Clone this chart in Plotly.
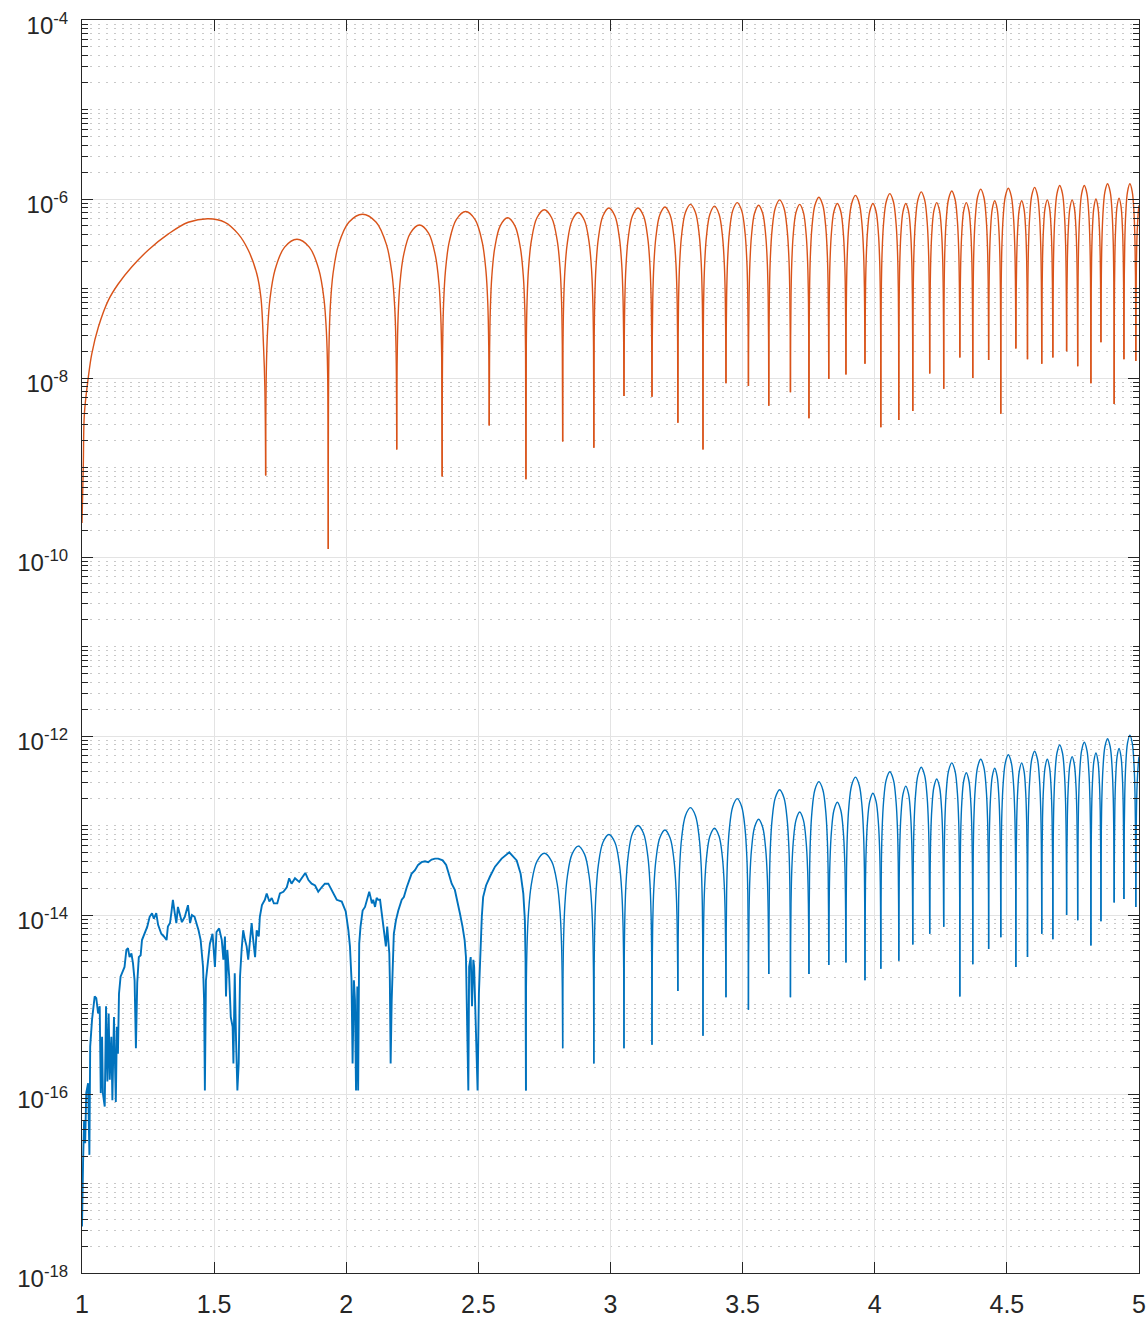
import plotly.graph_objects as go

# ---------------- data (log10 exponents) ----------------
# Orange series: initial long arch from x=1 up to first zero
orange_head_x = [1.000, 1.005, 1.009, 1.024, 1.037, 1.062, 1.100, 1.137, 1.188, 1.251, 1.327,
                 1.402, 1.478, 1.541, 1.591, 1.629, 1.661, 1.677, 1.687, 1.692, 1.695]
orange_head_exp = [-9.62, -8.96, -8.40, -7.99, -7.73, -7.43, -7.13, -6.95, -6.76, -6.57, -6.39,
                   -6.26, -6.22, -6.26, -6.39, -6.57, -6.83, -7.10, -7.65, -8.10, -9.09]

# Orange series: zeros (dips) and lobe maxima
orange_dip_x = [1.695, 1.932, 2.191, 2.363, 2.541, 2.680, 2.819, 2.937, 3.051, 3.157,
                3.255, 3.350, 3.437, 3.522, 3.599, 3.681, 3.751, 3.826, 3.891, 3.963,
                4.023, 4.091, 4.144, 4.208, 4.261, 4.322, 4.371, 4.431, 4.477, 4.534,
                4.578, 4.632, 4.674, 4.726, 4.768, 4.818, 4.856, 4.906, 4.943, 4.988]
orange_dip_exp = [-9.09, -9.91, -8.80, -9.10, -8.53, -9.13, -8.71, -8.78, -8.20, -8.21,
                  -8.50, -8.80, -8.06, -8.09, -8.31, -8.16, -8.45, -8.01, -7.96, -7.84,
                  -8.55, -8.47, -8.37, -7.95, -8.12, -7.77, -8.00, -7.80, -8.40, -7.67,
                  -7.79, -7.84, -7.77, -7.70, -7.87, -8.06, -7.60, -8.29, -7.79, -7.81]
orange_peak_exp = [-6.45, -6.17, -6.29, -6.14, -6.21, -6.12, -6.15, -6.10, -6.10, -6.09,
                   -6.06, -6.08, -6.04, -6.07, -6.01, -6.06, -5.98, -6.05, -5.96, -6.05,
                   -5.94, -6.05, -5.92, -6.04, -5.91, -6.04, -5.89, -6.02, -5.88, -6.02,
                   -5.87, -6.01, -5.85, -6.01, -5.85, -6.00, -5.83, -5.99, -5.83]
orange_tail_x = [4.988, 4.9885, 4.990, 4.993, 4.997, 5.000]
orange_tail_exp = [-7.81, -7.36, -6.76, -6.37, -6.16, -6.07]

# Blue series: noisy part (x = 1 ... 2.68)
blue_noise_x = [1.000, 1.002, 1.004, 1.008, 1.012, 1.016, 1.023, 1.028, 1.031, 1.038, 1.048, 1.054,
                1.061, 1.067, 1.071, 1.076, 1.079, 1.086, 1.091, 1.096, 1.101, 1.105, 1.111, 1.115,
                1.121, 1.128, 1.132, 1.136, 1.140, 1.146, 1.155, 1.161, 1.168, 1.174, 1.180, 1.187,
                1.193, 1.199, 1.204, 1.209, 1.215, 1.222, 1.227, 1.237, 1.247, 1.256, 1.265, 1.272,
                1.281, 1.288, 1.300, 1.310, 1.320, 1.325, 1.333, 1.338, 1.344, 1.351, 1.357, 1.363,
                1.371, 1.378, 1.389, 1.401, 1.409, 1.416, 1.426, 1.434, 1.441, 1.449, 1.458, 1.462,
                1.465, 1.469, 1.474, 1.484, 1.494, 1.503, 1.509, 1.519, 1.529, 1.535, 1.541, 1.545,
                1.550, 1.557, 1.563, 1.570, 1.573, 1.578, 1.583, 1.588, 1.593, 1.598, 1.604, 1.610,
                1.617, 1.623, 1.629, 1.636, 1.642, 1.648, 1.655, 1.661, 1.669, 1.673, 1.681, 1.692,
                1.699, 1.709, 1.718, 1.726, 1.739, 1.749, 1.762, 1.775, 1.784, 1.793, 1.806, 1.822,
                1.837, 1.845, 1.857, 1.869, 1.882, 1.894, 1.907, 1.919, 1.932, 1.951, 1.964, 1.983,
                1.998, 2.008, 2.014, 2.020, 2.024, 2.029, 2.033, 2.037, 2.042, 2.045, 2.049, 2.054,
                2.062, 2.071, 2.079, 2.087, 2.092, 2.097, 2.102, 2.109, 2.115, 2.121, 2.128, 2.134,
                2.140, 2.146, 2.150, 2.155, 2.159, 2.163, 2.165, 2.168, 2.172, 2.176, 2.180, 2.188,
                2.197, 2.210, 2.218, 2.229, 2.238, 2.247, 2.260, 2.272, 2.285, 2.298, 2.310, 2.323,
                2.336, 2.348, 2.365, 2.378, 2.386, 2.399, 2.411, 2.420, 2.430, 2.440, 2.448, 2.453,
                2.458, 2.462, 2.465, 2.471, 2.476, 2.481, 2.484, 2.488, 2.493, 2.497, 2.502, 2.506,
                2.510, 2.513, 2.518, 2.529, 2.544, 2.563, 2.588, 2.617, 2.645, 2.660, 2.670, 2.676,
                2.6785, 2.680]
blue_noise_exp = [-17.48, -17.00, -16.77, -16.29, -16.55, -15.99, -15.88, -16.68, -15.47, -15.17, -14.91, -14.93,
                  -15.10, -15.02, -15.99, -15.36, -15.99, -16.14, -15.02, -15.86, -15.10, -15.84, -15.36, -16.07,
                  -15.14, -16.09, -15.25, -15.55, -14.88, -14.69, -14.62, -14.58, -14.39, -14.37, -14.47, -14.43,
                  -14.54, -14.73, -15.49, -14.76, -14.47, -14.45, -14.28, -14.21, -14.13, -14.02, -13.98, -14.04,
                  -13.98, -14.11, -14.21, -14.24, -14.28, -14.13, -14.09, -13.98, -13.83, -13.98, -14.09, -13.91,
                  -14.02, -14.08, -14.02, -13.89, -14.09, -14.00, -14.02, -14.09, -14.17, -14.28, -14.58, -14.95,
                  -15.96, -14.73, -14.58, -14.32, -14.21, -14.58, -14.19, -14.15, -14.28, -14.50, -14.24, -14.91,
                  -14.39, -14.69, -15.14, -15.25, -15.66, -14.65, -15.40, -15.96, -15.66, -14.69, -14.39, -14.17,
                  -14.28, -14.35, -14.50, -14.24, -14.09, -14.28, -14.47, -14.17, -14.24, -14.02, -13.89, -13.83,
                  -13.76, -13.85, -13.81, -13.87, -13.87, -13.76, -13.74, -13.69, -13.59, -13.65, -13.59, -13.63,
                  -13.57, -13.53, -13.61, -13.65, -13.67, -13.74, -13.69, -13.65, -13.65, -13.76, -13.83, -13.85,
                  -13.96, -14.17, -14.35, -14.73, -15.66, -14.73, -14.95, -15.96, -14.80, -15.96, -14.32, -14.13,
                  -13.95, -13.91, -13.83, -13.74, -13.80, -13.87, -13.83, -13.91, -13.81, -13.83, -13.83, -13.98,
                  -14.06, -14.21, -14.35, -14.13, -14.28, -14.43, -14.73, -15.66, -14.95, -14.50, -14.21, -14.06,
                  -13.95, -13.83, -13.80, -13.69, -13.61, -13.54, -13.50, -13.44, -13.41, -13.40, -13.41, -13.38,
                  -13.37, -13.37, -13.39, -13.44, -13.52, -13.65, -13.72, -13.83, -13.98, -14.13, -14.28, -14.47,
                  -15.66, -15.96, -14.58, -14.47, -15.02, -14.50, -14.58, -15.02, -15.66, -15.96, -14.88, -14.47,
                  -14.21, -14.02, -13.80, -13.67, -13.57, -13.46, -13.37, -13.30, -13.39, -13.54, -13.76, -14.06,
                  -14.50, -15.96]

# Blue series: clean part, zeros (dips) and lobe maxima
blue_dip_x = [2.680, 2.819, 2.937, 3.051, 3.157, 3.255, 3.350, 3.437, 3.522, 3.599,
              3.681, 3.751, 3.826, 3.891, 3.963, 4.023, 4.091, 4.144, 4.208, 4.261,
              4.322, 4.371, 4.431, 4.477, 4.534, 4.578, 4.632, 4.674, 4.726, 4.768,
              4.818, 4.856, 4.906, 4.943, 4.988]
blue_dip_exp = [-15.96, -15.49, -15.66, -15.49, -15.45, -14.85, -15.35, -14.92, -15.06, -14.66,
                -14.92, -14.66, -14.56, -14.53, -14.73, -14.60, -14.51, -14.33, -14.21, -14.13,
                -14.91, -14.55, -14.38, -14.25, -14.58, -14.47, -14.21, -14.27, -14.00, -14.06,
                -14.34, -14.07, -13.86, -13.82, -13.91]
blue_peak_exp = [-13.31, -13.23, -13.10, -13.00, -13.05, -12.80, -13.03, -12.70, -12.93, -12.60,
                 -12.85, -12.51, -12.74, -12.46, -12.64, -12.40, -12.56, -12.35, -12.48, -12.30,
                 -12.41, -12.26, -12.36, -12.21, -12.30, -12.17, -12.26, -12.10, -12.23, -12.07,
                 -12.19, -12.03, -12.14, -11.99]
blue_tail_x = [4.988, 4.9885, 4.990, 4.993, 4.997, 5.000]
blue_tail_exp = [-13.91, -13.52, -12.92, -12.53, -12.32, -12.23]

# Lobe profile: position within lobe and decades below its top
lobe_profile_frac = [0.01, 0.03, 0.07, 0.15, 0.30, 0.50, 0.70, 0.85, 0.93, 0.97, 0.99]
lobe_profile_drop = [-1.50, -1.03, -0.66, -0.34, -0.09, 0.0, -0.09, -0.34, -0.66, -1.03, -1.50]

# Axis ticks
x_tick_vals = [1, 1.5, 2, 2.5, 3, 3.5, 4, 4.5, 5]
x_tick_text = ["1", "1.5", "2", "2.5", "3", "3.5", "4", "4.5", "5"]
y_tick_exps = [-18, -16, -14, -12, -10, -8, -6, -4]

ORANGE = "#D95319"
BLUE = "#0072BD"
AX = "#262626"


def lobes(dip_x, dip_exp, peak_exp):
    xs, ys = [], []
    for i, pk in enumerate(peak_exp):
        x0, x1 = dip_x[i], dip_x[i + 1]
        xs.append(x0)
        ys.append(10.0 ** dip_exp[i])
        for f, d in zip(lobe_profile_frac, lobe_profile_drop):
            xs.append(x0 + f * (x1 - x0))
            ys.append(10.0 ** (pk + d))
        xs.append(x1)
        ys.append(10.0 ** dip_exp[i + 1])
        xs.append(None)
        ys.append(None)
    return xs, ys


def pw(exps):
    return [10.0 ** e for e in exps]


fig = go.Figure()

lw = 1.4
# blue
fig.add_trace(go.Scatter(x=blue_noise_x, y=pw(blue_noise_exp), mode="lines",
                         line=dict(color=BLUE, width=1.9), showlegend=False))
bx, by = lobes(blue_dip_x, blue_dip_exp, blue_peak_exp)
fig.add_trace(go.Scatter(x=bx, y=by, mode="lines", connectgaps=False,
                         line=dict(color=BLUE, width=lw, shape="spline", smoothing=1.0),
                         showlegend=False))
fig.add_trace(go.Scatter(x=blue_tail_x, y=pw(blue_tail_exp), mode="lines",
                         line=dict(color=BLUE, width=lw, shape="spline", smoothing=1.0),
                         showlegend=False))
# orange
fig.add_trace(go.Scatter(x=orange_head_x, y=pw(orange_head_exp), mode="lines",
                         line=dict(color=ORANGE, width=lw, shape="spline", smoothing=1.0),
                         showlegend=False))
ox, oy = lobes(orange_dip_x, orange_dip_exp, orange_peak_exp)
fig.add_trace(go.Scatter(x=ox, y=oy, mode="lines", connectgaps=False,
                         line=dict(color=ORANGE, width=lw, shape="spline", smoothing=1.0),
                         showlegend=False))
fig.add_trace(go.Scatter(x=orange_tail_x, y=pw(orange_tail_exp), mode="lines",
                         line=dict(color=ORANGE, width=lw, shape="spline", smoothing=1.0),
                         showlegend=False))

major_vals = [10.0 ** k for k in y_tick_exps]
major_text = ["10<sup>%d</sup>" % k for k in y_tick_exps]
minor_vals = [n * 10.0 ** k for k in range(-18, -4) for n in range(1, 10)
              if not (n == 1 and k % 2 == 0)]

xfont = dict(family="Liberation Sans, Arial, sans-serif", size=25, color=AX)
yfont = dict(family="Liberation Sans, Arial, sans-serif", size=24, color=AX)

fig.update_xaxes(range=[1, 5], tickmode="array", tickvals=x_tick_vals, ticktext=x_tick_text,
                 ticks="inside", ticklen=11, tickwidth=1, tickcolor=AX,
                 showline=True, linecolor=AX, linewidth=1, mirror="allticks",
                 showgrid=True, gridcolor="#e3e3e3", gridwidth=1, zeroline=False,
                 tickfont=xfont, ticklabelstandoff=9, automargin=False)
fig.update_yaxes(type="log", range=[-18, -4], tickmode="array", tickvals=major_vals,
                 ticktext=major_text, ticks="inside", ticklen=11, tickwidth=1, tickcolor=AX,
                 showline=True, linecolor=AX, linewidth=1, mirror="allticks",
                 showgrid=True, gridcolor="#e3e3e3", gridwidth=1, zeroline=False,
                 tickfont=yfont, ticklabelstandoff=8, ticklabelshift=6, automargin=False,
                 minor=dict(tickmode="array", tickvals=minor_vals, ticks="inside", ticklen=6,
                            tickwidth=1, tickcolor=AX, showgrid=True, gridcolor="#c8c8c8",
                            griddash="2px,6px", gridwidth=1))

fig.update_layout(width=1147, height=1320, margin=dict(l=82, r=8, t=20, b=47),
                  plot_bgcolor="white", paper_bgcolor="white", showlegend=False)

fig.write_html("out.html", config={"displayModeBar": False},
               post_script="document.body.style.margin='0px';"
                           "document.body.style.overflow='hidden';")
